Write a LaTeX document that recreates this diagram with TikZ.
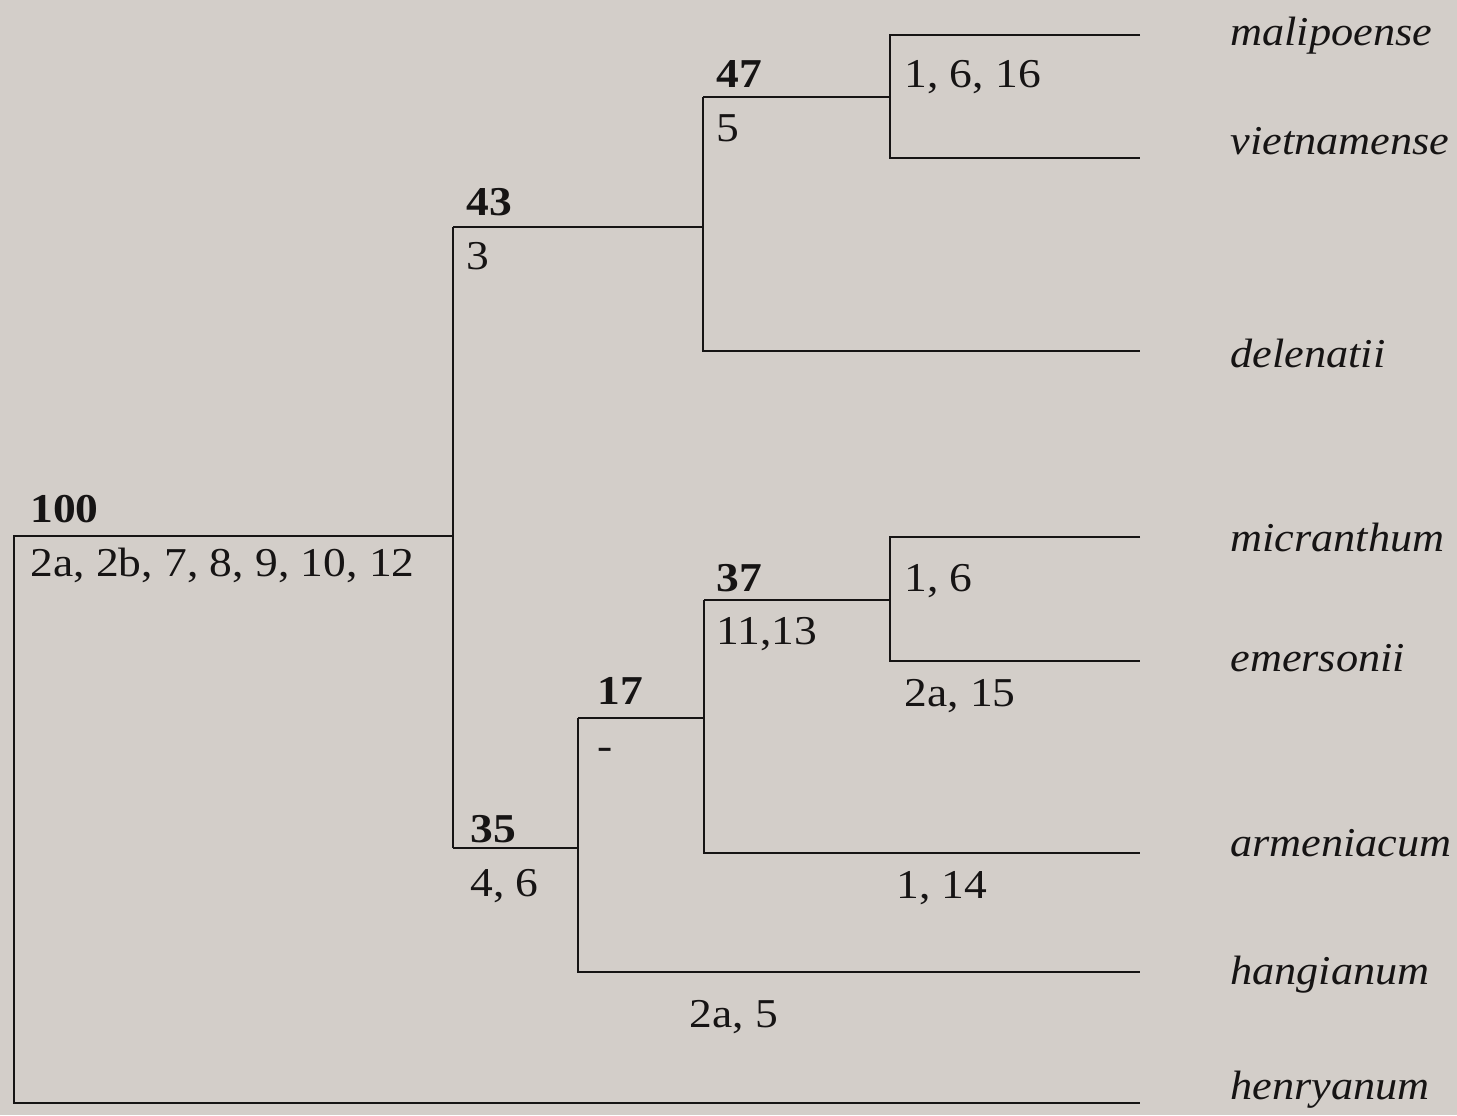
\documentclass[tikz,border=0pt]{standalone}
\usepackage{fontspec}
\setmainfont{Liberation Serif}
\newfontfamily\numfont[FakeStretch=1.11]{Liberation Serif}
\newfontfamily\taxfont[FakeStretch=1.08]{Liberation Serif}
\definecolor{bg}{RGB}{211,206,201}
\definecolor{ink}{RGB}{22,20,20}
\begin{document}
\begin{tikzpicture}[x=0.5pt,y=-0.5pt,
  branch/.style={draw=ink,line width=1pt,line join=miter},
  txt/.style={anchor=base west,inner sep=0pt,text=ink,font=\numfont\fontsize{20.5}{24}\selectfont},
  supp/.style={txt,font=\numfont\fontsize{20.5}{24}\selectfont\bfseries},
  taxon/.style={txt,font=\taxfont\fontsize{20.5}{24}\selectfont\itshape}]
\fill[bg] (0,0) rectangle (1457,1115);
\useasboundingbox (0,0) rectangle (1457,1115);
% tree coordinates
\coordinate (rt) at (14,536);
\coordinate (rb) at (14,1103);
\coordinate (th) at (1140,1103);
\coordinate (n1) at (453,536);
\coordinate (v1t) at (453,227);
\coordinate (v1b) at (453,848);
\coordinate (n43) at (703,227);
\coordinate (v43t) at (703,97);
\coordinate (v43b) at (703,351);
\coordinate (n47) at (890,97);
\coordinate (v47t) at (890,35);
\coordinate (v47b) at (890,158);
\coordinate (tmal) at (1140,35);
\coordinate (tvie) at (1140,158);
\coordinate (tdel) at (1140,351);
\coordinate (n35) at (578,848);
\coordinate (v35t) at (578,718);
\coordinate (v35b) at (578,972);
\coordinate (than) at (1140,972);
\coordinate (n17) at (704,718);
\coordinate (v17t) at (704,600);
\coordinate (v17b) at (704,853);
\coordinate (tarm) at (1140,853);
\coordinate (n37) at (890,600);
\coordinate (v37t) at (890,537);
\coordinate (v37b) at (890,661);
\coordinate (tmic) at (1140,537);
\coordinate (teme) at (1140,661);
% branches
\draw[branch] (n1) -- (rt) -- (rb) -- (th);
\draw[branch] (v1t) -- (v1b);
\draw[branch] (v1t) -- (n43);
\draw[branch] (v1b) -- (n35);
\draw[branch] (v43t) -- (v43b) -- (tdel);
\draw[branch] (v43t) -- (n47);
\draw[branch] (tmal) -- (v47t) -- (v47b) -- (tvie);
\draw[branch] (v35t) -- (v35b) -- (than);
\draw[branch] (v35t) -- (n17);
\draw[branch] (v17t) -- (v17b) -- (tarm);
\draw[branch] (v17t) -- (n37);
\draw[branch] (tmic) -- (v37t) -- (v37b) -- (teme);
% support values
\node[supp] (s100) at (30,522) {100};
\node[supp] (s43) at (466,215) {43};
\node[supp] (s47) at (716,87) {47};
\node[supp] (s37) at (716,591) {37};
\node[supp] (s17) at (597,704) {17};
\node[supp] (s35) at (470,842) {35};
% character labels
\node[txt] (c100) at (30,576) {2a, 2b, 7, 8, 9, 10, 12};
\node[txt] (c43) at (466,269) {3};
\node[txt] (c47) at (716,141) {5};
\node[txt] (cmv) at (904,87) {1, 6, 16};
\node[txt] (c37) at (716,644) {11,13};
\node[txt] (cmic) at (904,591) {1, 6};
\node[txt] (ceme) at (904,706) {2a, 15};
\node[txt] (c17) at (597,759) {-};
\node[txt] (c35) at (470,896) {4, 6};
\node[txt] (carm) at (896,898) {1, 14};
\node[txt] (chan) at (689,1027) {2a, 5};
% taxa
\node[taxon] (xmal) at (1230,45) {malipoense};
\node[taxon] (xvie) at (1230,154) {vietnamense};
\node[taxon] (xdel) at (1230,367) {delenatii};
\node[taxon] (xmic) at (1230,551) {micranthum};
\node[taxon] (xeme) at (1230,671) {emersonii};
\node[taxon] (xarm) at (1230,856) {armeniacum};
\node[taxon] (xhan) at (1230,984) {hangianum};
\node[taxon] (xhen) at (1230,1099) {henryanum};
\end{tikzpicture}
\end{document}
